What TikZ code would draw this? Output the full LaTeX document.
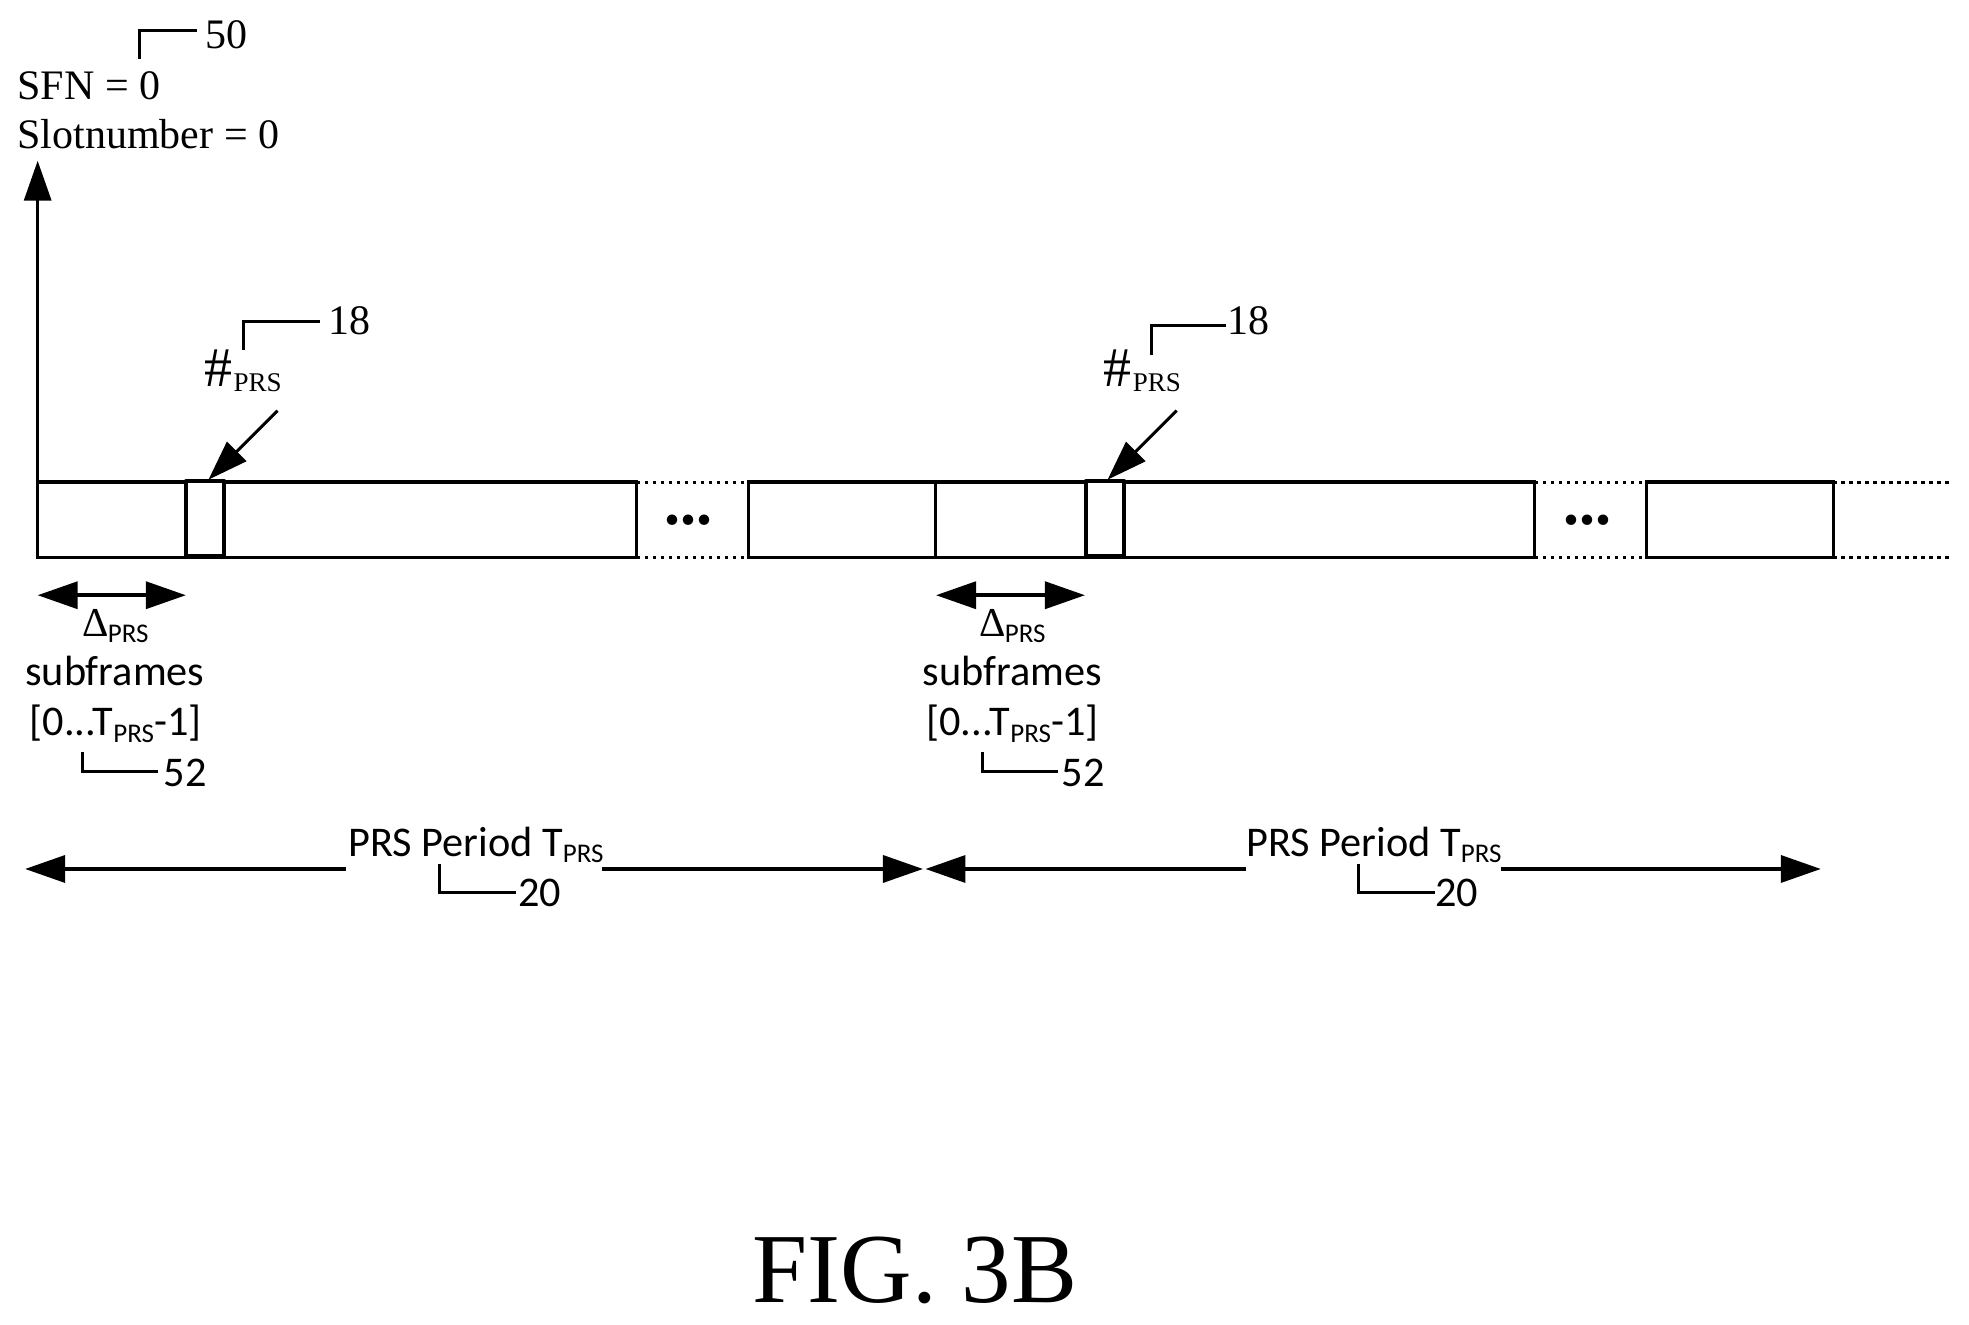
\documentclass[tikz,border=0pt]{standalone}
\usepackage{fontspec}
\usetikzlibrary{arrows.meta}
\setmainfont{Liberation Serif}
\newfontfamily\calfont{Carlito}
\newcommand{\serifbig}{\fontsize{42}{46}\selectfont}
\newcommand{\calbig}{\calfont\fontsize{42.3}{46}\selectfont}
\newcommand{\subsz}{\fontsize{27}{30}\selectfont}
\newcommand{\prssub}{\raisebox{-5pt}{\subsz PRS}}
\newcommand{\calsub}{\raisebox{-6.5pt}{\subsz PRS}}
\newcommand{\deltalabel}{{\fontsize{41}{46}\selectfont\char"0394}\kern-1pt{\calfont\subsz\raisebox{-6.5pt}{PRS}}}
\newcommand{\hashlabel}{{\fontsize{56}{60}\selectfont\#}\kern1pt\prssub}
\tikzset{
  x=1.2557pt, y=-1.2557pt,
  lineblk/.style={draw=black, line width=3.5pt, line cap=butt, line join=miter},
  leaderln/.style={draw=black, line width=3pt, line join=miter},
  pboxln/.style={draw=black, line width=3.8pt, fill=white, line join=round},
  dotln/.style={draw=black, line width=3.2pt, dash pattern=on 3.5pt off 4.5pt},
  tipend/.style={-{Triangle[width=27pt,length=40pt]}},
  tipboth/.style={{Triangle[width=27pt,length=40pt]}-{Triangle[width=27pt,length=40pt]}},
  plain/.style={inner sep=0pt, outer sep=0pt, text=black},
  serlab/.style={plain, font=\serifbig},
  callab/.style={plain, font=\calbig},
  dotlab/.style={plain, font=\fontsize{64}{70}\bfseries\selectfont},
}
\begin{document}
\begin{tikzpicture}
\useasboundingbox (0,0) rectangle (1568,1054.4);
% strip coordinates
\coordinate (o) at (30,444);
\coordinate (axtop) at (30,128);
\foreach \n/\x in {a/30,b/507,c/596,d/745,e/1222,f/1311,g/1460,h/1552}{
  \coordinate (\n t) at (\x,384);
  \coordinate (\n b) at (\x,444);
}
% axis
\draw[lineblk,tipend] (o) -- (axtop);
% strip
\draw[lineblk] (at) -- (bt) -- (bb) -- (ab) -- cycle;
\draw[lineblk] (ct) -- (et) -- (eb) -- (cb) -- cycle;
\draw[lineblk] (dt) -- (db);
\draw[lineblk] (ft) -- (gt) -- (gb) -- (fb) -- cycle;
\draw[dotln] (bt) -- (ct);
\draw[dotln] (bb) -- (cb);
\draw[dotln] (et) -- (ft);
\draw[dotln] (eb) -- (fb);
\draw[dotln] (gt) -- (ht);
\draw[dotln] (gb) -- (hb);
% PRS boxes
\node[pboxln, minimum width=38pt, minimum height=75pt, inner sep=0pt, anchor=center] (p1) at (163.5,412.7) {};
\node[pboxln, minimum width=38pt, minimum height=75pt, inner sep=0pt, anchor=center] (p2) at (880,412.7) {};
% ellipses in the gaps
\node[dotlab, anchor=base] (dots1) at (548.5,418) {...};
\node[dotlab, anchor=base] (dots2) at (1264.5,418) {...};
% top labels
\node[serlab, anchor=base west] (sfn) at (14,79) {SFN = 0};
\node[serlab, anchor=base west] (slot) at (14,118.5) {Slotnumber = 0};
\node[serlab, anchor=base] (n50) at (180.5,39) {50};
\coordinate (l50a) at (111,47); \coordinate (l50b) at (111,24.5); \coordinate (l50c) at (157,24.5);
\draw[leaderln] (l50a) -- (l50b) -- (l50c);
% first #PRS
\node[plain, anchor=base west] (h1) at (163,307.5) {\hashlabel};
\node[serlab, anchor=base] (n18a) at (278.7,266) {18};
\coordinate (l1a) at (193.7,278.7); \coordinate (l1b) at (193.7,255.7); \coordinate (l1c) at (254.8,255.7);
\draw[leaderln] (l1a) -- (l1b) -- (l1c);
\coordinate (ar1a) at (221,327); \coordinate (ar1b) at (166,382);
\draw[draw=black,line width=3pt,tipend] (ar1a) -- (ar1b);
% second #PRS
\node[plain, anchor=base west] (h2) at (879,307.5) {\hashlabel};
\node[serlab, anchor=base] (n18b) at (994,266) {18};
\coordinate (l2a) at (917,283); \coordinate (l2b) at (917,259); \coordinate (l2c) at (976,259);
\draw[leaderln] (l2a) -- (l2b) -- (l2c);
\coordinate (ar2a) at (937,327); \coordinate (ar2b) at (882,382);
\draw[draw=black,line width=3pt,tipend] (ar2a) -- (ar2b);
% delta arrows
\coordinate (da1) at (30,474); \coordinate (db1) at (148,474);
\coordinate (da2) at (745.4,474); \coordinate (db2) at (864,474);
\draw[lineblk,tipboth] (da1) -- (db1);
\draw[lineblk,tipboth] (da2) -- (db2);
% delta labels
\node[plain, anchor=base] (dl1) at (92,506.5) {\deltalabel};
\node[plain, anchor=base] (dl2) at (806.3,506.5) {\deltalabel};
\node[callab, anchor=base] (sf1) at (91.5,546) {subframes};
\node[callab, anchor=base] (sf2) at (806.3,546) {subframes};
\node[callab, anchor=base] (rg1) at (92,586) {[0...T\calsub-1]};
\node[callab, anchor=base] (rg2) at (806.3,586) {[0...T\calsub-1]};
\node[callab, anchor=base] (n52a) at (147.6,626) {52};
\node[callab, anchor=base] (n52b) at (862.5,626) {52};
\coordinate (l3a) at (66,599); \coordinate (l3b) at (66,614); \coordinate (l3c) at (126,614);
\coordinate (l4a) at (782,599); \coordinate (l4b) at (782,614); \coordinate (l4c) at (842.5,614);
\draw[leaderln] (l3a) -- (l3b) -- (l3c);
\draw[leaderln] (l4a) -- (l4b) -- (l4c);
% period labels
\node[callab, anchor=base west] (pp1) at (277.5,682) {PRS Period T\calsub};
\node[callab, anchor=base west] (pp2) at (992.5,682) {PRS Period T\calsub};
\coordinate (pa1) at (275.5,692); \coordinate (pa2) at (20,692);
\coordinate (pa3) at (479,692); \coordinate (pa4) at (735,692);
\coordinate (pb1) at (992,692); \coordinate (pb2) at (737,692);
\coordinate (pb3) at (1195,692); \coordinate (pb4) at (1450,692);
\draw[lineblk,tipend] (pa1) -- (pa2);
\draw[lineblk,tipend] (pa3) -- (pa4);
\draw[lineblk,tipend] (pb1) -- (pb2);
\draw[lineblk,tipend] (pb3) -- (pb4);
\node[callab, anchor=base] (n20a) at (430,721.5) {20};
\node[callab, anchor=base] (n20b) at (1160,721.5) {20};
\coordinate (l5a) at (350,688); \coordinate (l5b) at (350,710.6); \coordinate (l5c) at (411,710.6);
\coordinate (l6a) at (1082,688); \coordinate (l6b) at (1082,710.6); \coordinate (l6c) at (1143,710.6);
\draw[leaderln] (l5a) -- (l5b) -- (l5c);
\draw[leaderln] (l6a) -- (l6b) -- (l6c);
% caption
\node[plain, anchor=base, font=\fontsize{99}{105}\selectfont] (fig) at (728.5,1037.6) {FIG. 3B};
\end{tikzpicture}
\end{document}
